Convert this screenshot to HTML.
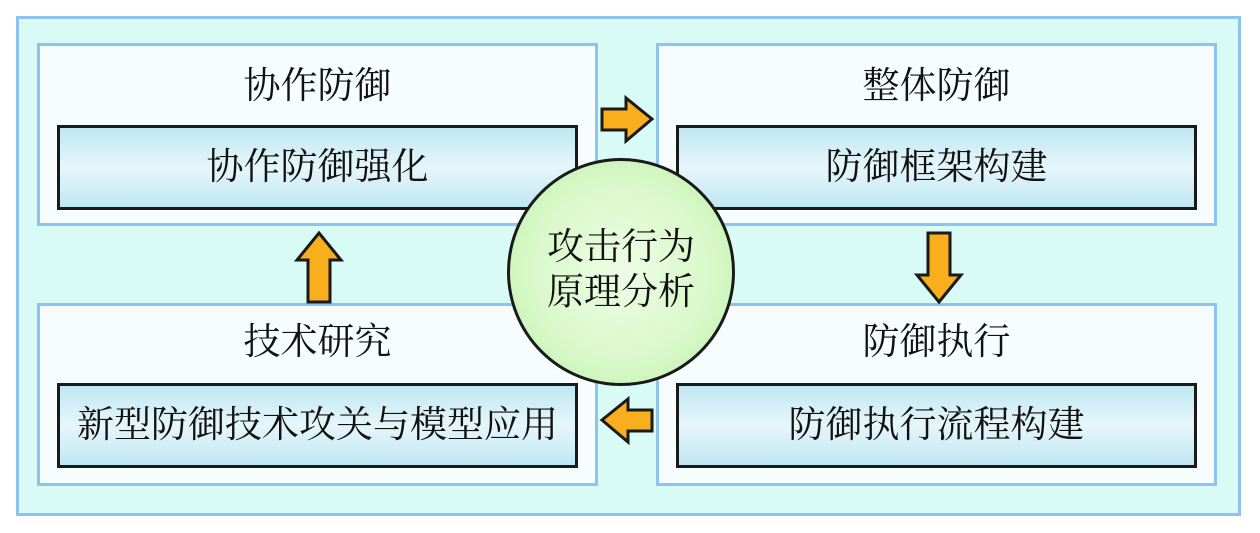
<!DOCTYPE html>
<html><head><meta charset="utf-8"><style>
body{margin:0;width:1260px;height:533px;background:#fff;position:relative;overflow:hidden;font-family:"Liberation Serif","Noto Serif CJK SC",serif;color:#111}
.abs{position:absolute;box-sizing:border-box}
.outer{left:16px;top:16px;width:1225px;height:500px;background:#d8fbf6;border:3px solid #8cc4ef}
.panel{background:#f7fdff;border:3px solid #8cc4ef;width:561px;height:183px}
.title{font-size:37px;line-height:40px;text-align:center;width:561px}
.inner{width:521px;height:85px;border:3px solid #1a1a1a;background:linear-gradient(#bfe7f2,#e6f6fa 50%,#bfe7f2);font-size:37px;text-align:center;line-height:79px}
.circle{left:507px;top:158px;width:228px;height:228px;border-radius:50%;border:3px solid #1a1a1a;background:radial-gradient(circle at 50% 50%,#eefde6,#d8f8c8 60%,#b2f0a0);font-size:37px;text-align:center;line-height:45px;padding-top:64px}
</style></head><body>
<div class="abs outer"></div>
<div class="abs panel" style="left:37px;top:43px"></div>
<div class="abs panel" style="left:656px;top:43px"></div>
<div class="abs panel" style="left:37px;top:303px"></div>
<div class="abs panel" style="left:656px;top:303px"></div>
<div class="abs title" style="left:37px;top:67px">协作防御</div>
<div class="abs title" style="left:656px;top:67px">整体防御</div>
<div class="abs title" style="left:37px;top:323px">技术研究</div>
<div class="abs title" style="left:656px;top:323px">防御执行</div>
<div class="abs inner" style="left:57px;top:125px">协作防御强化</div>
<div class="abs inner" style="left:676px;top:125px">防御框架构建</div>
<div class="abs inner" style="left:57px;top:383px">新型防御技术攻关与模型应用</div>
<div class="abs inner" style="left:676px;top:383px">防御执行流程构建</div>
<svg class="abs" style="left:0;top:0" width="1260" height="533">
<g fill="#f9ae1e" stroke="#1a1a1a" stroke-width="3" stroke-linejoin="miter">
<polygon points="602,109 626,109 626,98 652,119 626,141 626,130 602,130"/>
<polygon points="652,410 628,410 628,399 602,420 628,442 628,431 652,431"/>
<polygon points="928,233 950,233 950,275 961,275 939,302 917,275 928,275"/>
<polygon points="308,302 330,302 330,260 341,260 319,233 297,260 308,260"/>
</g>
</svg>
<div class="abs circle">攻击行为<br>原理分析</div>
</body></html>
